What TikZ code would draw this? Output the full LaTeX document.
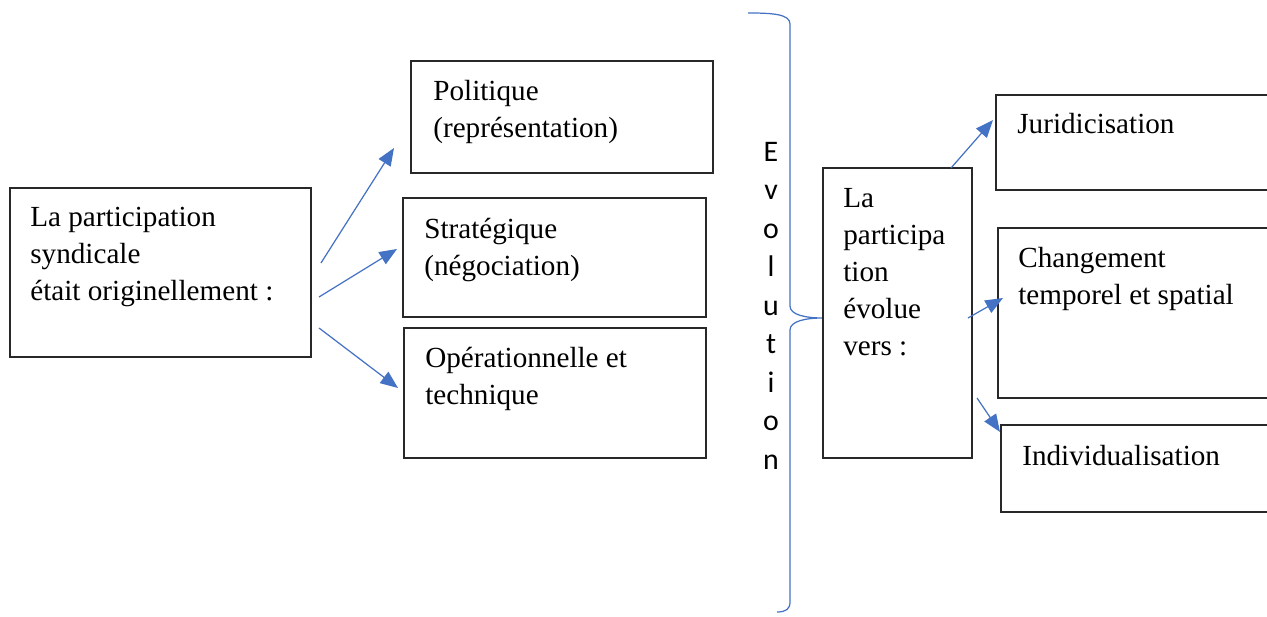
\documentclass[tikz,border=0pt]{standalone}
\usepackage{fontspec}
\setmainfont{Liberation Serif}
\newfontfamily\evofont{Carlito}
\usetikzlibrary{fit,arrows.meta}
\definecolor{wordblue}{RGB}{68,114,196}
\definecolor{boxgray}{RGB}{40,40,40}

\begin{document}
\begin{tikzpicture}[x=0.02cm, y=-0.02cm,
    box/.style={draw=boxgray, line width=0.6pt, inner sep=0pt},
    txt/.style={anchor=north west, inner sep=0pt, align=left, font=\fontsize{16.6}{21}\selectfont},
    link/.style={-{Triangle[length=10pt,width=8pt]}, wordblue, line width=0.7pt}]
    \useasboundingbox (0,0) rectangle (1267,617);
    \clip (0,0) rectangle (1267,617);

    % Starting point
    \node[box, fit={(10,188) (311,357)}] (orig) {};
    \node[txt] (origtxt) at (30,207) {La participation\\syndicale\\était originellement :};

    % Original forms
    \node[box, fit={(411,61) (713,173)}] (polit) {};
    \node[txt] (polittxt) at (433,80) {Politique\\(représentation)};
    \node[box, fit={(403,198) (706,317)}] (strat) {};
    \node[txt] (strattxt) at (424,218) {Stratégique\\(négociation)};
    \node[box, fit={(404,328) (706,458)}] (operat) {};
    \node[txt] (operattxt) at (425,347) {Opérationnelle et\\technique};

    % Arrows out of the starting box
    \coordinate (o1) at (321,263);
    \coordinate (o2) at (319,297);
    \coordinate (o3) at (319,328);
    \coordinate (p1) at (394,148);
    \coordinate (p2) at (397,249);
    \coordinate (p3) at (398,388);
    \draw[link] (o1) -- (p1);
    \draw[link] (o2) -- (p2);
    \draw[link] (o3) -- (p3);

    % Brace and vertical label
    \node[font=\evofont\fontsize{17}{21.9}\selectfont, align=center, anchor=north, inner sep=0pt]
        (evo) at (771,142) {E\\v\\o\\l\\u\\t\\i\\o\\n};
    \coordinate (brtip) at (823,318);
    \draw[wordblue, line width=0.7pt] (748,13) .. controls (772,13) and (790,14) .. (790,24)
        -- (790,306) .. controls (790,315) and (806,318) .. (brtip)
        .. controls (806,318) and (790,321) .. (790,330)
        -- (790,602) .. controls (790,609) and (786,612) .. (777,612);

    % Evolution
    \node[box, fit={(823,168) (972,458)}] (partic) {};
    \node[txt] (partictxt) at (843,188) {La\\participa\\tion\\évolue\\vers :};

    % New forms
    \node[box, fit={(996,95) (1290,190)}] (jurid) {};
    \node[txt] (juridtxt) at (1017,113) {Juridicisation};
    \node[box, fit={(998,228) (1290,398)}] (chang) {};
    \node[txt] (changtxt) at (1018,247) {Changement\\temporel et spatial};
    \node[box, fit={(1001,425) (1290,512)}] (indiv) {};
    \node[txt] (indivtxt) at (1022,445) {Individualisation};

    % Arrows out of the evolution box
    \coordinate (e1) at (951,168);
    \coordinate (e2) at (968,318);
    \coordinate (e3) at (977,398);
    \coordinate (n1) at (993,120);
    \coordinate (n2) at (1003,298);
    \coordinate (n3) at (1000,432);
    \draw[link] (e1) -- (n1);
    \draw[link] (e2) -- (n2);
    \draw[link] (e3) -- (n3);
\end{tikzpicture}
\end{document}
